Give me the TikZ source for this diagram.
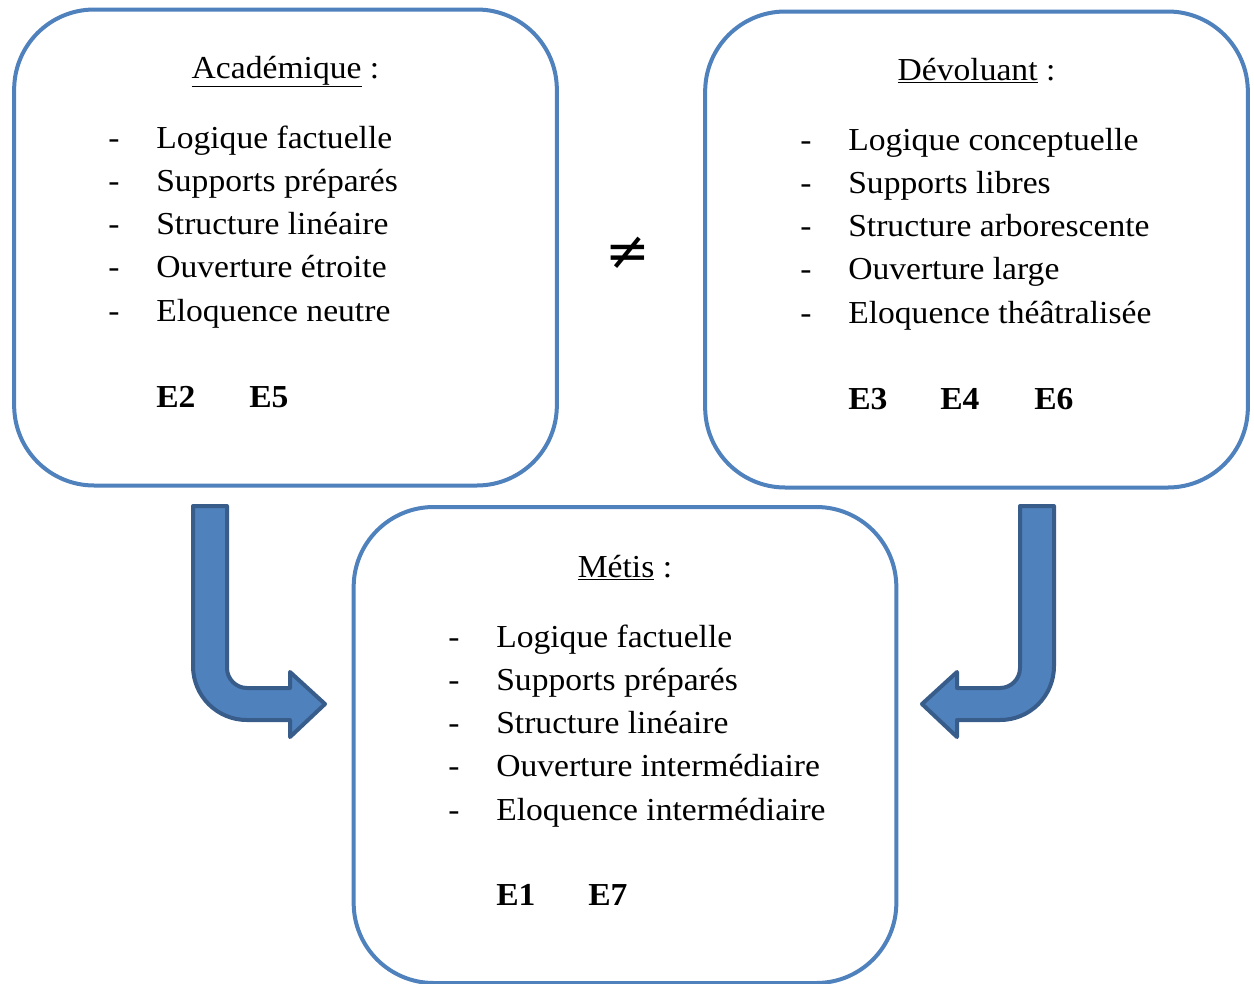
\documentclass[tikz,border=0pt]{standalone}
\usepackage{fontspec}
\setmainfont{Liberation Serif}[FakeStretch=1.05]
\newfontfamily\symbfont{DejaVu Sans}
\definecolor{boxblue}{HTML}{4F81BD}
\definecolor{arrowline}{HTML}{385D8A}
\tikzset{
  cadre/.style={draw=boxblue, line width=3pt, rounded corners=60pt,
    minimum width=407pt, minimum height=357pt},
  titre/.style={anchor=base, font=\fontsize{24}{29}\selectfont},
  ligne/.style={anchor=base west, inner sep=0pt, font=\fontsize{24}{29}\selectfont},
  eleve/.style={anchor=base west, inner sep=0pt, font=\fontsize{24}{29}\selectfont\bfseries},
  fleche/.style={fill=boxblue, draw=arrowline, line width=3pt, line join=round},
}
\begin{document}
\begin{tikzpicture}[x=0.75pt,y=-0.75pt]
        % cadre de la page
        \fill[white] (0,0) rectangle (1254,983);
        \useasboundingbox (0,0) rectangle (1254,983);
        % les trois cadres
        \node[cadre] (acad) at (285.5,247.5) {};
        \node[cadre] (devol) at (976.5,249.5) {};
        \node[cadre] (metis) at (625,745) {};
        % Academique
        \node[titre] (acadtitre) at (285.5,78) {\underline{Académique} :};
        \foreach \txt [count=\i] in {Logique factuelle, Supports préparés,
            Structure linéaire, Ouverture étroite, Eloquence neutre} {
          \node[ligne] (acadtiret\i) at (108,{104.7+43.3*\i}) {-};
          \node[ligne] (acad\i) at (156,{104.7+43.3*\i}) {\txt};
        }
        \node[eleve] (e2) at (156,407) {E2};
        \node[eleve] (e5) at (249,407) {E5};
        % Devoluant
        \node[titre] (devoltitre) at (976.5,80) {\underline{Dévoluant} :};
        \foreach \txt [count=\i] in {Logique conceptuelle, Supports libres,
            Structure arborescente, Ouverture large, Eloquence théâtralisée} {
          \node[ligne] (devoltiret\i) at (800,{106.7+43.3*\i}) {-};
          \node[ligne] (devol\i) at (848,{106.7+43.3*\i}) {\txt};
        }
        \node[eleve] (e3) at (848,409) {E3};
        \node[eleve] (e4) at (940,409) {E4};
        \node[eleve] (e6) at (1034,409) {E6};
        % Metis
        \node[titre] (metistitre) at (625,577) {\underline{Métis} :};
        \foreach \txt [count=\i] in {Logique factuelle, Supports préparés,
            Structure linéaire, Ouverture intermédiaire, Eloquence intermédiaire} {
          \node[ligne] (metistiret\i) at (448,{603.7+43.3*\i}) {-};
          \node[ligne] (metis\i) at (496,{603.7+43.3*\i}) {\txt};
        }
        \node[eleve] (e1) at (496,905) {E1};
        \node[eleve] (e7) at (588,905) {E7};
        % signe different
        \node (diff) at (628,253) {\symbfont\fontsize{40}{48}\selectfont ≠};
        % fleches coudees
        \draw[fleche] (193,506) -- (227,506) -- (227,668)
          .. controls (227,679) and (236,688) .. (247,688) -- (290,688)
          -- (290,672) -- (325,704) -- (290,737) -- (290,720) -- (247,720)
          .. controls (217,720) and (193,696) .. (193,666) -- cycle;
        \draw[fleche] (1054,506) -- (1020,506) -- (1020,668)
          .. controls (1020,679) and (1011,688) .. (1000,688) -- (957,688)
          -- (957,672) -- (922,704) -- (957,737) -- (957,720) -- (1000,720)
          .. controls (1030,720) and (1054,696) .. (1054,666) -- cycle;
      \end{tikzpicture}
\end{document}
